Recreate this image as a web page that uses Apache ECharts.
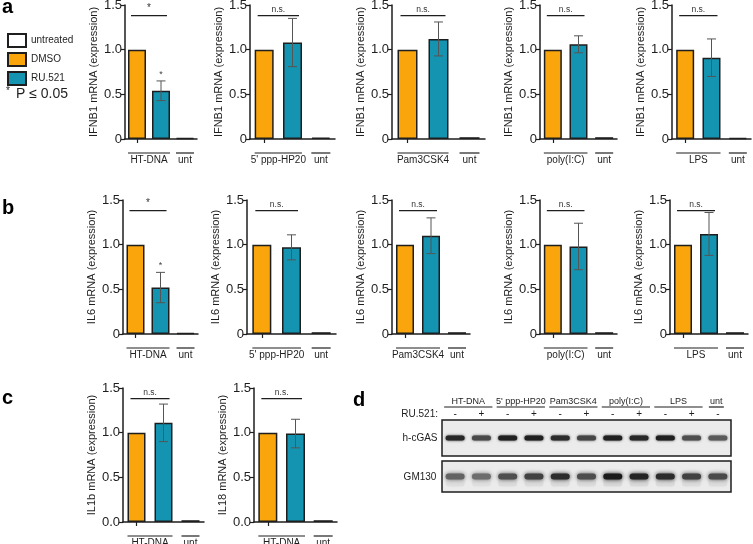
<!DOCTYPE html>
<html><head><meta charset="utf-8">
<script src="https://cdn.jsdelivr.net/npm/echarts@6/dist/echarts.min.js"></script>
<style>html,body{margin:0;padding:0;background:#fff}#c{width:753px;height:544px}</style>
</head><body><div id="c"></div>
<script>
// ---------------- data ----------------
const conditions = ['DMSO', 'RU.521', 'untreated'];
const legendNames = ['untreated', 'DMSO', 'RU.521'];
const stimuli = ['HT-DNA', "5' ppp-HP20", 'Pam3CSK4', 'poly(I:C)', 'LPS'];
const ifnb1Mean = [[1.00, 0.54, 0.010], [1.00, 1.08, 0.015], [1.00, 1.12, 0.020], [1.00, 1.06, 0.020], [1.00, 0.91, 0.010]];
const ifnb1Err  = [[0, 0.11, 0], [0, 0.27, 0], [0, 0.19, 0], [0, 0.095, 0], [0, 0.21, 0]];
const ifnb1Sig  = ['*', 'n.s.', 'n.s.', 'n.s.', 'n.s.'];
const ifnb1Star = ['*', '', '', '', ''];
const il6Mean = [[1.00, 0.52, 0.010], [1.00, 0.97, 0.020], [1.00, 1.10, 0.020], [1.00, 0.98, 0.020], [1.00, 1.12, 0.020]];
const il6Err  = [[0, 0.17, 0], [0, 0.14, 0], [0, 0.20, 0], [0, 0.26, 0], [0, 0.24, 0]];
const il6Sig  = ['*', 'n.s.', 'n.s.', 'n.s.', 'n.s.'];
const il6Star = ['*', '', '', '', ''];
const ilStimulus = 'HT-DNA';
const il1bMean = [1.00, 1.11, 0.020];
const il1bErr  = [0, 0.21, 0];
const il18Mean = [1.00, 0.99, 0.020];
const il18Err  = [0, 0.16, 0];
const ilSig = ['n.s.', 'n.s.'];
const yTicks = [0, 0.5, 1.0, 1.5];
const untLabel = 'unt';
// western blot (panel d)
const blotLanes = ['HT-DNA', 'HT-DNA', "5' ppp-HP20", "5' ppp-HP20", 'Pam3CSK4', 'Pam3CSK4', 'poly(I:C)', 'poly(I:C)', 'LPS', 'LPS', 'unt'];
const ru521 = ['-', '+', '-', '+', '-', '+', '-', '+', '-', '+', '-'];
const cgasBand  = [0.88, 0.72, 0.92, 0.92, 0.86, 0.74, 0.92, 0.88, 0.92, 0.70, 0.64];
const gm130Band = [0.60, 0.55, 0.70, 0.76, 0.86, 0.70, 0.95, 0.90, 0.86, 0.76, 0.72];

// ---------------- style / layout ----------------
const FONT = 'Liberation Sans, Arial, Helvetica, sans-serif';
const COLORS = { DMSO: '#F9A50B', 'RU.521': '#1494B0', untreated: '#ffffff' };
const INK = '#1e1e1e';
const H = 134;
const geom = [
  {l:125, r:197, t:5,   bw:18}, {l:250, r:335, t:5,   bw:19}, {l:392, r:485, t:5,   bw:20}, {l:540, r:617, t:5,   bw:18}, {l:672, r:751, t:5,   bw:18},
  {l:123, r:198, t:200, bw:18}, {l:247, r:336, t:200, bw:19}, {l:392, r:470, t:200, bw:18}, {l:540, r:617, t:200, bw:18}, {l:670, r:748, t:200, bw:18},
  {l:123, r:204, t:388, bw:18}, {l:254, r:337, t:388, bw:19}
];

const panels = [];
stimuli.forEach((s, i) => panels.push({mean: ifnb1Mean[i], err: ifnb1Err[i], sig: ifnb1Sig[i], star: ifnb1Star[i], group: s, yName: 'IFNB1 mRNA (expression)', zero: '0'}));
stimuli.forEach((s, i) => panels.push({mean: il6Mean[i], err: il6Err[i], sig: il6Sig[i], star: il6Star[i], group: s, yName: 'IL6 mRNA (expression)', zero: '0'}));
panels.push({mean: il1bMean, err: il1bErr, sig: ilSig[0], star: '', group: ilStimulus, yName: 'IL1b mRNA (expression)', zero: '0.0'});
panels.push({mean: il18Mean, err: il18Err, sig: ilSig[1], star: '', group: ilStimulus, yName: 'IL18 mRNA (expression)', zero: '0.0'});

const grids = [], xAxes = [], yAxes = [], series = [];

panels.forEach((p, i) => {
  const g = geom[i];
  grids.push({left: g.l, top: g.t, width: g.r - g.l, height: H, containLabel: false, outerBoundsMode: 'none'});
  xAxes.push({
    type: 'category', gridIndex: i, data: conditions, boundaryGap: true,
    axisLine: {lineStyle: {color: INK, width: 1.5}},
    axisTick: {show: true, alignWithLabel: true, length: 4, lineStyle: {color: INK, width: 1.2}},
    axisLabel: {show: false}, splitLine: {show: false}
  });
  yAxes.push({
    type: 'value', gridIndex: i, min: yTicks[0], max: yTicks[yTicks.length - 1], interval: yTicks[1] - yTicks[0],
    name: p.yName, nameLocation: 'middle', nameGap: 26,
    nameTextStyle: {fontSize: 11, color: INK, fontFamily: FONT},
    axisLine: {show: true, lineStyle: {color: INK, width: 1.5}},
    axisTick: {show: true, length: 4, lineStyle: {color: INK, width: 1.2}},
    splitLine: {show: false},
    axisLabel: {fontSize: 13, color: INK, fontFamily: FONT, margin: 3,
      formatter: v => v === 0 ? p.zero : v.toFixed(1)}
  });
  // bars: one series per condition, overlapping (barGap -100%)
  conditions.forEach((c, k) => {
    series.push({
      type: 'bar', name: c, xAxisIndex: i, yAxisIndex: i, barWidth: g.bw, barGap: '-100%',
      data: conditions.map((cc, j) => j === k ? p.mean[j] : '-'),
      itemStyle: {color: COLORS[c], borderColor: INK, borderWidth: 1.5},
      emphasis: {disabled: true}, silent: true, animation: false, z: 2
    });
  });
  // error bars
  const errData = p.mean.map((m, j) => [j, m, p.err[j]]).filter(d => d[2] > 0);
  series.push({
    type: 'custom', xAxisIndex: i, yAxisIndex: i, data: errData, clip: false, silent: true, animation: false, z: 5,
    renderItem: (params, api) => {
      const x = api.value(0), m = api.value(1), e = api.value(2);
      const top = api.coord([x, m + e]), bot = api.coord([x, m - e]);
      const cx = top[0], cap = 4.5;
      const st = {stroke: '#555', lineWidth: 1};
      const ch = [
        {type: 'line', shape: {x1: cx, y1: top[1], x2: cx, y2: bot[1]}, style: st},
        {type: 'line', shape: {x1: cx - cap, y1: top[1], x2: cx + cap, y2: top[1]}, style: st},
        {type: 'line', shape: {x1: cx - cap, y1: bot[1], x2: cx + cap, y2: bot[1]}, style: st}
      ];
      if (p.star) ch.push({type: 'text', style: {text: p.star, x: cx, y: top[1] - 2, textAlign: 'center', textVerticalAlign: 'bottom', fill: '#444', font: '9px ' + FONT}});
      return {type: 'group', children: ch};
    }
  });
  // significance line between DMSO and RU.521
  series.push({
    type: 'custom', xAxisIndex: i, yAxisIndex: i, data: [[0, 1, 1.38]], clip: false, silent: true, animation: false, z: 5,
    renderItem: (params, api) => {
      const a = api.coord([api.value(0), api.value(2)]), b = api.coord([api.value(1), api.value(2)]);
      const x1 = a[0] - g.bw / 2 + 3, x2 = b[0] + g.bw / 2 - 3;
      return {type: 'group', children: [
        {type: 'line', shape: {x1: x1, y1: a[1], x2: x2, y2: a[1]}, style: {stroke: INK, lineWidth: 1.2}},
        {type: 'text', style: {text: p.sig, x: (x1 + x2) / 2, y: a[1] - 2, textAlign: 'center', textVerticalAlign: 'bottom', fill: '#333', font: (p.sig === '*' ? '10px ' : '8.5px ') + FONT}}
      ]};
    }
  });
  // group brackets under x axis
  const groups = [[0, 1, p.group], [2, 2, untLabel]];
  series.push({
    type: 'custom', xAxisIndex: i, yAxisIndex: i, data: groups.map(gr => [gr[0], gr[1]]), clip: false, silent: true, animation: false, z: 5,
    renderItem: (params, api) => {
      const a = api.coord([api.value(0), 0]), b = api.coord([api.value(1), 0]);
      const x1 = a[0] - g.bw / 2, x2 = b[0] + g.bw / 2, y = a[1] + 14;
      return {type: 'group', children: [
        {type: 'line', shape: {x1: x1, y1: y, x2: x2, y2: y}, style: {stroke: INK, lineWidth: 1.2}},
        {type: 'text', style: {text: groups[params.dataIndex][2], x: (x1 + x2) / 2, y: y + 2, textAlign: 'center', textVerticalAlign: 'top', fill: INK, font: '10px ' + FONT}}
      ]};
    }
  });
});

// ---------------- blot panel d ----------------
const blotIdx = [panels.length, panels.length + 1];
const blotGeom = [{t: 420, h: 36}, {t: 461, h: 31}];
const blotBands = [cgasBand, gm130Band];
blotIdx.forEach((gi, b) => {
  grids.push({left: 442, top: blotGeom[b].t, width: 289, height: blotGeom[b].h, show: true,
    backgroundColor: '#ebebeb', borderColor: INK, borderWidth: 1.5, containLabel: false, outerBoundsMode: 'none'});
  xAxes.push({type: 'category', gridIndex: gi, data: blotLanes.map((l, k) => l + k), boundaryGap: true, show: false});
  yAxes.push({type: 'value', gridIndex: gi, min: 0, max: 1, show: false});
  series.push({
    type: 'custom', xAxisIndex: gi, yAxisIndex: gi, data: blotBands[b].map((v, k) => [k, v]), clip: false, silent: true, animation: false,
    renderItem: (params, api) => {
      const lane = api.value(0), v = api.value(1);
      const c = api.coord([lane, 0.5]);
      const lv = Math.round(225 - 210 * v);
      const col = 'rgb(' + lv + ',' + lv + ',' + lv + ')';
      const w = 19, h = b === 0 ? 5 : 6;
      const ch = [];
      if (b === 1) ch.push({type: 'rect', shape: {x: c[0] - w / 2, y: c[1], width: w, height: 10, r: 3},
        style: {fill: 'rgba(90,90,90,' + (0.12 * v).toFixed(3) + ')', shadowBlur: 4, shadowColor: 'rgba(90,90,90,0.2)'}});
      ch.push({type: 'rect', shape: {x: c[0] - w / 2, y: c[1] - h / 2, width: w, height: h, r: h / 2},
        style: {fill: col, shadowBlur: b === 0 ? 2.5 : 4, shadowColor: col}});
      return {type: 'group', children: ch};
    }
  });
});
// header: RU.521 signs and stimulus groups, on top blot grid
const spans = [];
blotLanes.forEach((l, k) => {
  if (spans.length && spans[spans.length - 1][2] === l) spans[spans.length - 1][1] = k;
  else spans.push([k, k, l]);
});
series.push({
  type: 'custom', xAxisIndex: blotIdx[0], yAxisIndex: blotIdx[0], data: ru521.map((s, k) => [k, 1]), clip: false, silent: true, animation: false,
  renderItem: (params, api) => {
    const c = api.coord([api.value(0), 1]);
    return {type: 'text', style: {text: ru521[params.dataIndex], x: c[0], y: c[1] - 6, textAlign: 'center', textVerticalAlign: 'middle', fill: INK, font: '10px ' + FONT}};
  }
});
series.push({
  type: 'custom', xAxisIndex: blotIdx[0], yAxisIndex: blotIdx[0], data: spans.map(s => [s[0], s[1]]), clip: false, silent: true, animation: false,
  renderItem: (params, api) => {
    const a = api.coord([api.value(0), 1]), bb = api.coord([api.value(1), 1]);
    const single = api.value(0) === api.value(1);
    const x1 = a[0] - (single ? 9 : 11), x2 = bb[0] + (single ? 6 : 11), y = a[1] - 13;
    return {type: 'group', children: [
      {type: 'line', shape: {x1: x1, y1: y, x2: x2, y2: y}, style: {stroke: INK, lineWidth: 1.2}},
      {type: 'text', style: {text: spans[params.dataIndex][2], x: (x1 + x2) / 2, y: y - 1, textAlign: 'center', textVerticalAlign: 'bottom', fill: INK, font: '9px ' + FONT}}
    ]};
  }
});

// ---------------- chart ----------------
const chart = echarts.init(document.getElementById('c'), null, {renderer: 'canvas'});
chart.setOption({
  animation: false,
  backgroundColor: '#ffffff',
  textStyle: {fontFamily: FONT},
  legend: {
    orient: 'vertical', left: 7, top: 33, padding: 0, itemWidth: 18, itemHeight: 13, itemGap: 4, icon: 'rect',
    selectedMode: false, data: legendNames,
    textStyle: {fontSize: 10, color: INK, fontFamily: FONT, lineHeight: 13}
  },
  grid: grids, xAxis: xAxes, yAxis: yAxes, series: series,
  graphic: [
    {type: 'text', left: 2, top: -3, style: {text: 'a', font: 'bold 20px ' + FONT, fill: '#000'}},
    {type: 'text', left: 2, top: 198, style: {text: 'b', font: 'bold 20px ' + FONT, fill: '#000'}},
    {type: 'text', left: 2, top: 388, style: {text: 'c', font: 'bold 20px ' + FONT, fill: '#000'}},
    {type: 'text', left: 353, top: 390, style: {text: 'd', font: 'bold 20px ' + FONT, fill: '#000'}},
    {type: 'text', left: 6, top: 86, style: {text: '*', font: '10px ' + FONT, fill: INK}},
    {type: 'text', left: 16, top: 87, style: {text: 'P \u2264 0.05', font: '14px ' + FONT, fill: INK}},
    {type: 'text', x: 438, y: 414, style: {text: 'RU.521:', font: '10px ' + FONT, fill: INK, textAlign: 'right', textVerticalAlign: 'middle'}},
    {type: 'text', x: 420, y: 438, style: {text: 'h-cGAS', font: '10px ' + FONT, fill: INK, textAlign: 'center', textVerticalAlign: 'middle'}},
    {type: 'text', x: 420, y: 477, style: {text: 'GM130', font: '10px ' + FONT, fill: INK, textAlign: 'center', textVerticalAlign: 'middle'}}
  ]
});
</script></body></html>
